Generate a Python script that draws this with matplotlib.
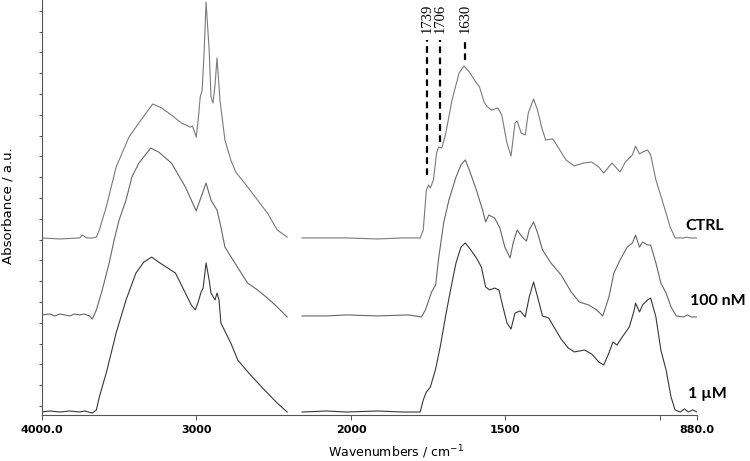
import numpy as np
import matplotlib
matplotlib.use('Agg')
import matplotlib.pyplot as plt

nan = np.nan

# FTIR spectra, stacked; nan marks the cut-out CO2 region
ctrl_wn = [4000, 3885, 3757, 3738, 3712, 3674, 3648, 3629, 3584, 3520,
           3437, 3373, 3283, 3226, 3162, 3098, 3040, 3027, 3014, 3002,
           2989, 2976, 2963, 2950, 2938, 2918, 2906, 2893, 2880, 2867,
           2848, 2816, 2778, 2746, 2669, 2605, 2541, 2477, 2413, nan,
           2317, 2157, 2029, 1914, 1832, 1776, 1766, 1756, 1749, 1743,
           1733, 1723, 1716, 1706, 1693, 1673, 1650, 1634, 1617, 1594,
           1584, 1568, 1558, 1545, 1525, 1512, 1495, 1482, 1469, 1462,
           1449, 1436, 1426, 1409, 1396, 1383, 1370, 1347, 1330, 1304,
           1277, 1248, 1221, 1198, 1182, 1155, 1129, 1112, 1089, 1079,
           1066, 1056, 1040, 1030, 1013, 990, 967, 951, 924, 914,
           904, 880]
ctrl_abs = [0.808, 0.803, 0.808, 0.822, 0.808, 0.808, 0.812, 0.846, 0.957, 1.149,
            1.293, 1.361, 1.452, 1.433, 1.399, 1.361, 1.341, 1.346, 1.322, 1.293,
            1.375, 1.486, 1.519, 1.712, 1.942, 1.712, 1.486, 1.457, 1.543, 1.673,
            1.471, 1.279, 1.183, 1.125, 1.053, 0.990, 0.928, 0.846, 0.812, nan,
            0.808, 0.808, 0.808, 0.803, 0.808, 0.808, 0.846, 1.038, 1.063, 1.048,
            1.087, 1.216, 1.245, 1.240, 1.312, 1.471, 1.601, 1.635, 1.606, 1.553,
            1.534, 1.457, 1.438, 1.423, 1.433, 1.399, 1.264, 1.202, 1.361, 1.370,
            1.312, 1.303, 1.409, 1.476, 1.423, 1.341, 1.279, 1.284, 1.245, 1.183,
            1.154, 1.168, 1.173, 1.149, 1.120, 1.168, 1.125, 1.173, 1.207, 1.250,
            1.212, 1.221, 1.231, 1.207, 1.087, 0.976, 0.861, 0.808, 0.808, 0.812,
            0.808, 0.808]

nm100_wn = [4000, 3949, 3917, 3885, 3853, 3821, 3789, 3757, 3725, 3693,
            3674, 3648, 3610, 3565, 3533, 3501, 3456, 3418, 3373, 3296,
            3245, 3162, 3072, 3002, 2970, 2938, 2906, 2867, 2842, 2816,
            2752, 2669, 2605, 2541, 2477, 2413, nan,
            2317, 2157, 2029, 1914, 1815, 1772, 1759, 1739, 1726, 1716,
            1700, 1683, 1660, 1644, 1630, 1617, 1594, 1574, 1564, 1554,
            1535, 1518, 1502, 1485, 1475, 1462, 1446, 1432, 1423, 1409,
            1396, 1380, 1353, 1320, 1287, 1261, 1231, 1205, 1185, 1165,
            1149, 1129, 1106, 1089, 1079, 1066, 1056, 1040, 1030, 1013,
            997, 980, 964, 947, 924, 911, 898, 880]
nm100_abs = [0.438, 0.442, 0.433, 0.442, 0.438, 0.433, 0.442, 0.438, 0.442, 0.433,
             0.418, 0.462, 0.558, 0.688, 0.798, 0.894, 0.990, 1.101, 1.168, 1.240,
             1.221, 1.168, 1.053, 0.938, 1.005, 1.072, 0.990, 0.942, 0.861, 0.764,
             0.688, 0.591, 0.558, 0.519, 0.476, 0.428, nan,
             0.433, 0.433, 0.438, 0.433, 0.438, 0.428, 0.462, 0.548, 0.582, 0.712,
             0.880, 0.990, 1.101, 1.159, 1.183, 1.135, 1.038, 0.942, 0.885, 0.918,
             0.904, 0.856, 0.764, 0.712, 0.784, 0.846, 0.813, 0.793, 0.846, 0.885,
             0.832, 0.750, 0.688, 0.630, 0.548, 0.500, 0.486, 0.462, 0.433, 0.524,
             0.639, 0.702, 0.764, 0.784, 0.822, 0.764, 0.788, 0.774, 0.774, 0.688,
             0.591, 0.543, 0.476, 0.433, 0.428, 0.438, 0.428, 0.428]

um1_wn = [4000, 3949, 3885, 3821, 3757, 3725, 3674, 3648, 3629, 3584,
          3520, 3456, 3392, 3341, 3290, 3245, 3136, 3072, 3034, 3008,
          2989, 2970, 2957, 2938, 2918, 2906, 2880, 2867, 2854, 2842,
          2778, 2733, 2650, 2560, 2477, 2413, nan,
          2317, 2157, 2029, 1914, 1832, 1776, 1766, 1756, 1743, 1726,
          1710, 1693, 1677, 1660, 1644, 1630, 1617, 1594, 1578, 1564,
          1551, 1535, 1521, 1508, 1495, 1482, 1469, 1452, 1436, 1423,
          1409, 1396, 1380, 1360, 1343, 1320, 1297, 1277, 1244, 1221,
          1198, 1182, 1165, 1152, 1139, 1122, 1099, 1083, 1079, 1066,
          1056, 1040, 1030, 1013, 997, 980, 964, 951, 934, 921,
          908, 894, 880]
um1_abs = [-0.029, -0.024, -0.029, -0.024, -0.029, -0.024, -0.034, -0.019, 0.043, 0.159,
           0.351, 0.510, 0.639, 0.692, 0.716, 0.692, 0.639, 0.543, 0.486, 0.462,
           0.500, 0.548, 0.567, 0.688, 0.606, 0.543, 0.510, 0.543, 0.510, 0.399,
           0.303, 0.221, 0.149, 0.077, 0.014, -0.029, nan,
           -0.029, -0.024, -0.029, -0.024, -0.029, -0.029, 0.029, 0.067, 0.091, 0.178,
           0.293, 0.438, 0.563, 0.688, 0.764, 0.784, 0.760, 0.712, 0.668, 0.572,
           0.558, 0.567, 0.558, 0.476, 0.399, 0.370, 0.447, 0.457, 0.428, 0.524,
           0.596, 0.524, 0.433, 0.423, 0.380, 0.322, 0.279, 0.260, 0.269, 0.250,
           0.212, 0.197, 0.255, 0.308, 0.293, 0.332, 0.380, 0.462, 0.495, 0.452,
           0.486, 0.510, 0.519, 0.428, 0.269, 0.173, 0.043, -0.019, -0.029, -0.014,
           -0.029, -0.019, -0.029]

sample_names = ['CTRL', '100 nM', '1 \u00b5M']
label_wn = [919, 903, 909]
label_abs = [0.846, 0.486, 0.038]

# band markers, drawn where the figure has them (slightly off the labelled values)
peak_labels = ['1739', '1706', '1630']
peak_mark_wn = [1754, 1712, 1631]
peak_line_bottom = [1.111, 1.269, 1.663]
peak_line_top = 1.760

xtick_vals = [4000, 3000, 2000, 1500, 1000, 880]
xtick_labels = ['4000.0', '3000', '2000', '1500', '', '880.0']


# x axis compressed 2:1 above 2000 cm-1, like the spectrometer software
def fwd(w):
    w = np.asarray(w, dtype=float)
    return np.where(w < 2000, w - 880, 1120 + (w - 2000) / 2)


def inv(p):
    p = np.asarray(p, dtype=float)
    return np.where(p < 1120, p + 880, 2000 + (p - 1120) * 2)


fig = plt.figure(figsize=(7.5, 4.61), dpi=100)
ax = fig.add_axes([42 / 750, 46 / 461, 655 / 750, 415 / 461])
ax.set_xscale('function', functions=(fwd, inv))

ax.plot(ctrl_wn, ctrl_abs, color='#7a7a7a', lw=0.8)
ax.plot(nm100_wn, nm100_abs, color='#666666', lw=0.8)
ax.plot(um1_wn, um1_abs, color='#383838', lw=0.8)

ax.set_xlim(4000, 880)
ax.set_ylim(-0.0433, 1.952)

for name, x, y in zip(sample_names, label_wn, label_abs):
    ax.text(x, y, name, fontfamily='Lato', fontweight='bold', fontsize=11.5,
            ha='left', va='baseline', clip_on=False)

for w, lab, yb in zip(peak_mark_wn, peak_labels, peak_line_bottom):
    ax.plot([w, w], [yb, peak_line_top], color='black', lw=1.6,
            dashes=(3, 2), solid_capstyle='butt', dash_capstyle='butt')
    ax.text(w, 1.793, lab, rotation=90, ha='center', va='bottom',
            fontfamily='Liberation Serif', fontsize=10.5, clip_on=False)

ax.set_xticks(xtick_vals)
ax.set_xticklabels(xtick_labels, fontweight='bold', fontsize=8)
ax.minorticks_off()
ax.set_yticks(np.arange(0, 1.95, 0.1))
ax.set_yticklabels([])

for side in ['top', 'right']:
    ax.spines[side].set_visible(False)
for side in ['left', 'bottom']:
    ax.spines[side].set_color('#555555')
    ax.spines[side].set_linewidth(0.8)
ax.tick_params(axis='x', direction='out', length=3.5, width=0.7,
               color='#555555', pad=4)
ax.tick_params(axis='y', direction='out', length=2.2, width=0.7,
               color='#555555')

fig.text(396 / 750, 4 / 461, 'Wavenumbers / cm$^{-1}$', ha='center',
         va='baseline', fontsize=9)
fig.text(0.002, 0.555, 'Absorbance / a.u.', rotation=90, va='center',
         ha='left', fontsize=9.5)

fig.savefig('out.png', dpi=100)
